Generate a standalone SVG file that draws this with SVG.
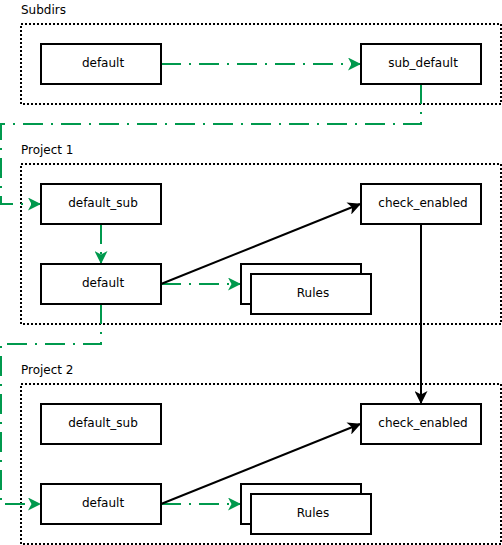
<svg xmlns="http://www.w3.org/2000/svg" width="502" height="545" viewBox="0 0 502 545">
<style>
.c{fill:none;stroke:#000;stroke-width:2;stroke-dasharray:2 2}
.n{fill:#fff;stroke:#000;stroke-width:2}
.t{font-family:"DejaVu Sans",sans-serif;font-size:12px;fill:#000;text-anchor:middle}
.l{font-family:"DejaVu Sans",sans-serif;font-size:12px;fill:#000}
.g{fill:none;stroke:#00994D;stroke-width:2;stroke-dasharray:20 8 2 8}
.b{fill:none;stroke:#000;stroke-width:2}
</style>
<defs>
<marker id="ag" viewBox="0 0 13 13" refX="12" refY="6.5" markerWidth="13" markerHeight="13" markerUnits="userSpaceOnUse" orient="auto">
<path d="M0,0 L13,6.5 L0,13 L3.5,6.5 Z" fill="#00994D"/>
</marker>
<marker id="ab" viewBox="0 0 13 13" refX="12" refY="6.5" markerWidth="13" markerHeight="13" markerUnits="userSpaceOnUse" orient="auto">
<path d="M0,0 L13,6.5 L0,13 L3.5,6.5 Z" fill="#000"/>
</marker>
</defs>
<g id="containers">
<g id="subdirs"><text class="l" x="21" y="14">Subdirs</text><rect class="c" x="21" y="24" width="480" height="80"/></g>
<g id="project1"><text class="l" x="21" y="154">Project 1</text><rect class="c" x="21" y="164" width="480" height="160"/></g>
<g id="project2"><text class="l" x="21" y="374">Project 2</text><rect class="c" x="21" y="384" width="480" height="160"/></g>
</g>
<g id="connectors">
<path class="g" d="M161,64 L360,64" marker-end="url(#ag)"/>
<path class="g" d="M421,84 L421,124 L1,124 L1,204 L40,204" marker-end="url(#ag)"/>
<path class="g" d="M101,224 L101,263" marker-end="url(#ag)"/>
<path class="g" d="M161,284 L240,284" marker-end="url(#ag)"/>
<path class="b" d="M161,284 L360,204" marker-end="url(#ab)"/>
<path class="b" d="M421,224 L421,403" marker-end="url(#ab)"/>
<path class="g" d="M101,304 L101,344 L1,344 L1,504 L40,504" marker-end="url(#ag)"/>
<path class="g" d="M161,504 L240,504" marker-end="url(#ag)"/>
<path class="b" d="M161,504 L360,424" marker-end="url(#ab)"/>
</g>
<g id="s_default"><rect class="n" x="41" y="44" width="120" height="40"/><text class="t" x="103" y="66.5">default</text></g>
<g id="s_sub_default"><rect class="n" x="361" y="44" width="120" height="40"/><text class="t" x="423" y="66.5">sub_default</text></g>
<g id="p1_default_sub"><rect class="n" x="41" y="184" width="120" height="40"/><text class="t" x="103" y="206.5">default_sub</text></g>
<g id="p1_default"><rect class="n" x="41" y="264" width="120" height="40"/><text class="t" x="103" y="286.5">default</text></g>
<g id="p1_check_enabled"><rect class="n" x="361" y="184" width="120" height="40"/><text class="t" x="423" y="206.5">check_enabled</text></g>
<g id="p1_rules"><rect class="n" x="241" y="264" width="120" height="40"/><rect class="n" x="251" y="274" width="120" height="40"/><text class="t" x="313" y="296.5">Rules</text></g>
<g id="p2_default_sub"><rect class="n" x="41" y="404" width="120" height="40"/><text class="t" x="103" y="426.5">default_sub</text></g>
<g id="p2_default"><rect class="n" x="41" y="484" width="120" height="40"/><text class="t" x="103" y="506.5">default</text></g>
<g id="p2_check_enabled"><rect class="n" x="361" y="404" width="120" height="40"/><text class="t" x="423" y="426.5">check_enabled</text></g>
<g id="p2_rules"><rect class="n" x="241" y="484" width="120" height="40"/><rect class="n" x="251" y="494" width="120" height="40"/><text class="t" x="313" y="516.5">Rules</text></g>
</svg>
